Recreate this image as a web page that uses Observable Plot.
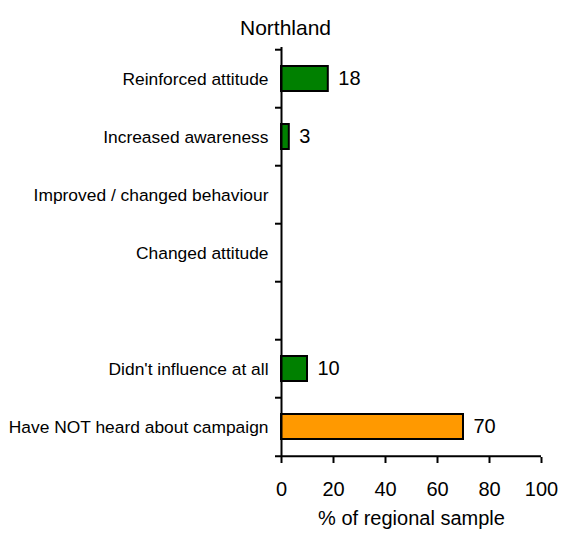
<!DOCTYPE html>
<html>
<head>
<meta charset="utf-8">
<script src="https://cdn.jsdelivr.net/npm/d3@7"></script>
<script src="https://cdn.jsdelivr.net/npm/@observablehq/plot@0.6"></script>
<style>
  html, body { margin: 0; padding: 0; background: #fff; }
  #chart svg { display: block; }
</style>
</head>
<body>
<div id="chart"></div>
<script>
const title = "Northland";
const xLabel = "% of regional sample";
const categories = [
  "Reinforced attitude",
  "Increased awareness",
  "Improved / changed behaviour",
  "Changed attitude",
  " ",
  "Didn't influence at all",
  "Have NOT heard about campaign"
];
const values = [18, 3, null, null, null, 10, 70];
const fills = ["#008000", "#008000", "#008000", "#008000", null, "#008000", "#FF9900"];
const xTicks = [0, 20, 40, 60, 80, 100];

const W = 561, H = 533;
const mTop = 47, mBottom = 76, mLeft = 281, mRight = 20;
const step = (H - mTop - mBottom) / categories.length;

const rows = categories
  .map((c, i) => ({category: c, value: values[i], fill: fills[i]}))
  .filter(d => d.value != null);

const font = "Liberation Sans, Arial, Helvetica, sans-serif";

const chart = Plot.plot({
  width: W,
  height: H,
  marginTop: mTop,
  marginBottom: mBottom,
  marginLeft: mLeft,
  marginRight: mRight,
  style: {fontFamily: font, color: "#000", background: "#fff"},
  x: {domain: [0, 100]},
  y: {domain: categories, paddingInner: 0.57, paddingOuter: 0.285},
  color: {type: "identity"},
  marks: [
    Plot.barX(rows, {y: "category", x: "value", fill: "fill", stroke: "#000", strokeWidth: 2}),
    Plot.text(rows, {y: "category", x: "value", text: d => String(d.value), textAnchor: "start", dx: 10, fontSize: 20, fill: "#000"}),
    // y axis line
    Plot.ruleX([0], {stroke: "#000", strokeWidth: 2}),
    // category boundary ticks
    Plot.ruleY(categories, {y: d => d, x1: 0, x2: 0, insetLeft: -6, dy: -step / 2, stroke: "#000", strokeWidth: 2}),
    // bottom axis line with last tick
    Plot.ruleY([categories[categories.length - 1]], {y: d => d, x1: 0, x2: 100, insetLeft: -6, dy: step / 2, stroke: "#000", strokeWidth: 2}),
    Plot.axisY({tickSize: 0, tickPadding: 13, fontSize: 17.4, label: null}),
    Plot.axisX({ticks: xTicks, tickSize: 6, tickPadding: 18, fontSize: 20, strokeWidth: 2, label: null}),
    Plot.text([xLabel], {frameAnchor: "bottom", dy: 67, fontSize: 20, fill: "#000"}),
    Plot.text([title], {frameAnchor: "top", dx: -126, dy: -27, fontSize: 21, fill: "#000"})
  ]
});
document.getElementById("chart").appendChild(chart);
</script>
</body>
</html>
